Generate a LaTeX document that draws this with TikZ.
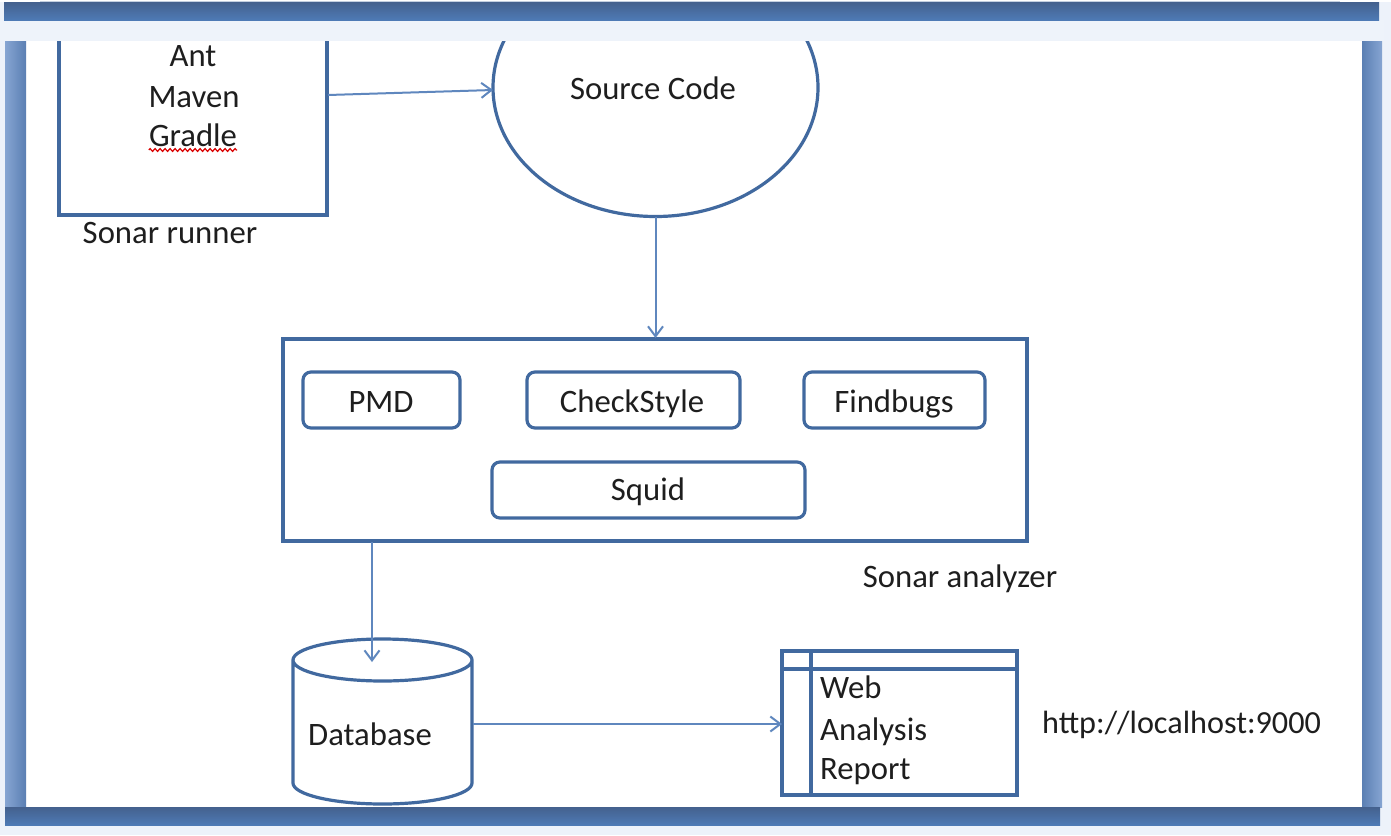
\documentclass[tikz,border=0pt]{standalone}
\usepackage{fontspec}
\setmainfont{Carlito}
\usetikzlibrary{arrows.meta,decorations.pathmorphing,shapes.geometric}
\definecolor{pagebg}{HTML}{EDF2FA}
\definecolor{stripbg}{HTML}{EEF3FA}
\definecolor{barD}{HTML}{44618E}
\definecolor{barB}{HTML}{4E7AB5}
\definecolor{barL}{HTML}{86A5D2}
\definecolor{barM}{HTML}{5B7FB3}
\definecolor{lineblue}{HTML}{41699F}
\definecolor{arrowblue}{HTML}{5F87BE}
\definecolor{txt}{HTML}{1E1E1E}
\definecolor{topedge}{HTML}{C3CFE0}
\tikzset{
  x=1pt,y=-1pt,
  shapeline/.style={draw=lineblue,line width=3.2pt},
  boxframe/.style={shapeline,rectangle,inner sep=0pt,outer sep=0pt,anchor=north west},
  tool/.style={boxframe,rounded corners=8pt,fill=white},
  flow/.style={draw=arrowblue,line width=2pt,-{Straight Barb[length=10pt,width=15pt,line width=2pt]}},
  textlabel/.style={anchor=base,inner sep=0pt,text=txt,font=\fontsize{32.7}{33}\selectfont},
  leftlabel/.style={textlabel,anchor=base west},
}
\begin{document}
\begin{tikzpicture}
\useasboundingbox (0,0) rectangle (1391,835);
\fill[pagebg] (0,0) rectangle (1391,835);
\fill[white] (26,41) rectangle (1362,807);

% runner box and source ellipse (their tops are hidden by the strip drawn later)
\node[boxframe,minimum width=268pt,minimum height=195pt] (runner) at (59,20) {};
\node[shapeline,ellipse,inner sep=0pt,outer sep=0pt,minimum width=325pt,minimum height=258pt] (source) at (655.5,87.5) {};
\node[textlabel] (ant) at (193,66) {Ant};
\node[textlabel] (maven) at (194,107) {Maven};
\node[textlabel] (gradle) at (193,146) {Gradle};
\draw[red!85!black,line width=1.2pt,decorate,decoration={zigzag,segment length=5pt,amplitude=1.4pt}] (gradle.base west |- 0,150) -- (gradle.base east |- 0,150);
\node[textlabel] (runnerlabel) at (170,243) {Sonar runner};
\node[textlabel] (sourcelabel) at (653,99) {Source Code};

% analyzer
\node[boxframe,minimum width=744pt,minimum height=202pt] (analyzer) at (283,339) {};
\node[tool,minimum width=157pt,minimum height=56pt] (pmd) at (303,372) {};
\node[tool,minimum width=213pt,minimum height=56pt] (check) at (527,372) {};
\node[tool,minimum width=181pt,minimum height=56pt] (find) at (804,372) {};
\node[tool,minimum width=313pt,minimum height=56pt] (squid) at (492,462) {};
\node[textlabel] at (381,412) {PMD};
\node[textlabel] at (632,412) {CheckStyle};
\node[textlabel] at (894,412) {Findbugs};
\node[textlabel] at (648,500) {Squid};
\node[textlabel] (analyzerlabel) at (960,587) {Sonar analyzer};

% database
\node[inner sep=0pt,outer sep=0pt,minimum width=179pt,minimum height=166pt,anchor=north west] (db) at (293,639) {};
\draw[shapeline] (293,660) arc[start angle=180,end angle=360,x radius=89.5pt,y radius=21pt]
  arc[start angle=0,end angle=180,x radius=89.5pt,y radius=21pt]
  -- (293,783) arc[start angle=180,end angle=360,x radius=89.5pt,y radius=21pt] -- (472,660);
\node[textlabel] (dblabel) at (370,745) {Database};

% report window
\node[boxframe,minimum width=235pt,minimum height=144pt] (report) at (782,651) {};
\draw[shapeline] (782,669) -- (1017,669);
\draw[shapeline] (811,651) -- (811,795);
\node[leftlabel] (web) at (820,698) {Web};
\node[leftlabel] (analysis) at (820,740) {Analysis};
\node[leftlabel] (rep) at (820,779) {Report};
\node[leftlabel,font=\fontsize{32.2}{33}\selectfont] (url) at (1042,733) {http://localhost:9000};

% connectors
\coordinate (runnerout) at (328,95);
\coordinate (sourcein) at (493,90);
\coordinate (sourceout) at (655.5,217);
\coordinate (analyzerin) at (655.5,338);
\coordinate (analyzerout) at (372,542);
\coordinate (dbin) at (372,662);
\coordinate (dbout) at (473,724);
\coordinate (reportin) at (782,724);
\draw[flow] (runnerout) -- (sourcein);
\draw[flow] (sourceout) -- (analyzerin);
\draw[flow] (analyzerout) -- (dbin);
\draw[flow] (dbout) -- (reportin);

% window frame, drawn last so it hides the tops of the runner box and ellipse
\fill[white] (0,0) rectangle (1391,2);
\fill[topedge] (40,1) rectangle (1340,2);
\fill[stripbg] (0,20) rectangle (1384,41);
\shade[top color=barD,bottom color=barB] (4,2) rectangle (1379,20);
\shade[left color=barL,right color=barM] (5,41) rectangle (26,807);
\shade[left color=barM,right color=barL] (1362,41) rectangle (1382,807);
\shade[top color=barD,bottom color=barB] (5,807) rectangle (1380,825);
\end{tikzpicture}
\end{document}
